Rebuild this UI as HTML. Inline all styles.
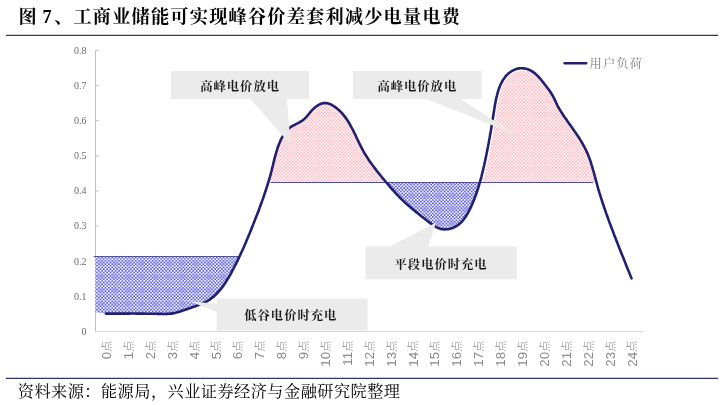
<!DOCTYPE html>
<html lang="zh-CN"><head><meta charset="utf-8"><title>图 7</title>
<style>
html,body{margin:0;padding:0;background:#fff;}
body{width:728px;height:405px;position:relative;overflow:hidden;font-family:"Liberation Serif","Noto Serif CJK SC",serif;}
.title{position:absolute;left:18.6px;top:3.2px;font-size:18.2px;line-height:28px;font-weight:700;color:#000;white-space:nowrap;letter-spacing:1.2px;}
.src{position:absolute;left:17.8px;top:378.7px;letter-spacing:0.45px;font-size:16.2px;line-height:26px;color:#000;white-space:nowrap;font-weight:400;}
svg text{font-family:"Liberation Serif","Noto Serif CJK SC",serif;}
.yl{font-size:10px;fill:#6a6a6a;}
.xl{font-family:"Liberation Sans","Noto Sans CJK SC",sans-serif;font-size:13.3px;fill:#8a8a8a;font-weight:300;}
.xc{font-size:11.5px;font-weight:300;}
.ct{font-size:12.3px;letter-spacing:1px;font-weight:700;fill:#1a1a1a;}
.lg{font-size:12.3px;letter-spacing:1px;fill:#7a7a7a;}
</style></head><body>
<svg width="728" height="405" viewBox="0 0 728 405" style="position:absolute;left:0;top:0">
<defs><radialGradient id="pbg"><stop offset="0" stop-color="#9a9aea" stop-opacity="0.8"/><stop offset="0.55" stop-color="#9a9aea" stop-opacity="0.55"/><stop offset="1" stop-color="#9a9aea" stop-opacity="0"/></radialGradient><pattern id="pb" patternUnits="userSpaceOnUse" width="27" height="27"><rect width="27" height="27" fill="#f6f6fe"/><path d="M0,0.8438H28.6875M-1.6875,2.5312H28.6875M0,4.2188H28.6875M-1.6875,5.9062H28.6875M0,7.5938H28.6875M-1.6875,9.2812H28.6875M0,10.9688H28.6875M-1.6875,12.6562H28.6875M0,14.3438H28.6875M-1.6875,16.0312H28.6875M0,17.7188H28.6875M-1.6875,19.4062H28.6875M0,21.0938H28.6875M-1.6875,22.7812H28.6875M0,24.4688H28.6875M-1.6875,26.1562H28.6875" fill="none" stroke="#6060e0" stroke-width="1.6875" stroke-dasharray="1.6875 1.6875"/><circle cx="6.75" cy="6.75" r="4.2" fill="url(#pbg)"/><circle cx="6.75" cy="20.25" r="4.2" fill="url(#pbg)"/><circle cx="20.25" cy="6.75" r="4.2" fill="url(#pbg)"/><circle cx="20.25" cy="20.25" r="4.2" fill="url(#pbg)"/></pattern><radialGradient id="ppg"><stop offset="0" stop-color="#ffd3d8" stop-opacity="0.8"/><stop offset="0.55" stop-color="#ffd3d8" stop-opacity="0.55"/><stop offset="1" stop-color="#ffd3d8" stop-opacity="0"/></radialGradient><pattern id="pp" patternUnits="userSpaceOnUse" width="27" height="27"><rect width="27" height="27" fill="#fff8f9"/><path d="M0,0.8438H28.6875M-1.6875,2.5312H28.6875M0,4.2188H28.6875M-1.6875,5.9062H28.6875M0,7.5938H28.6875M-1.6875,9.2812H28.6875M0,10.9688H28.6875M-1.6875,12.6562H28.6875M0,14.3438H28.6875M-1.6875,16.0312H28.6875M0,17.7188H28.6875M-1.6875,19.4062H28.6875M0,21.0938H28.6875M-1.6875,22.7812H28.6875M0,24.4688H28.6875M-1.6875,26.1562H28.6875" fill="none" stroke="#ffbcc4" stroke-width="1.6875" stroke-dasharray="1.6875 1.6875"/><circle cx="6.75" cy="6.75" r="4.2" fill="url(#ppg)"/><circle cx="6.75" cy="20.25" r="4.2" fill="url(#ppg)"/><circle cx="20.25" cy="6.75" r="4.2" fill="url(#ppg)"/><circle cx="20.25" cy="20.25" r="4.2" fill="url(#ppg)"/></pattern></defs>
<line x1="5.9" y1="35.4" x2="718.1" y2="35.4" stroke="#2f346e" stroke-width="1.2"/>
<line x1="5.9" y1="378.4" x2="718.1" y2="378.4" stroke="#2f346e" stroke-width="1.2"/>
<line x1="95.5" y1="50.4" x2="95.5" y2="331.5" stroke="#bfbfbf" stroke-width="1"/>
<line x1="95.0" y1="331.5" x2="642.9" y2="331.5" stroke="#d9d9d9" stroke-width="1"/>
<text x="86.6" y="334.90" text-anchor="end" class="yl">0</text>
<line x1="95.5" y1="296.36" x2="98.7" y2="296.36" stroke="#bfbfbf" stroke-width="1"/>
<text x="86.6" y="299.76" text-anchor="end" class="yl">0.1</text>
<line x1="95.5" y1="261.23" x2="98.7" y2="261.23" stroke="#bfbfbf" stroke-width="1"/>
<text x="86.6" y="264.62" text-anchor="end" class="yl">0.2</text>
<line x1="95.5" y1="226.09" x2="98.7" y2="226.09" stroke="#bfbfbf" stroke-width="1"/>
<text x="86.6" y="229.49" text-anchor="end" class="yl">0.3</text>
<line x1="95.5" y1="190.95" x2="98.7" y2="190.95" stroke="#bfbfbf" stroke-width="1"/>
<text x="86.6" y="194.35" text-anchor="end" class="yl">0.4</text>
<line x1="95.5" y1="155.81" x2="98.7" y2="155.81" stroke="#bfbfbf" stroke-width="1"/>
<text x="86.6" y="159.21" text-anchor="end" class="yl">0.5</text>
<line x1="95.5" y1="120.68" x2="98.7" y2="120.68" stroke="#bfbfbf" stroke-width="1"/>
<text x="86.6" y="124.08" text-anchor="end" class="yl">0.6</text>
<line x1="95.5" y1="85.54" x2="98.7" y2="85.54" stroke="#bfbfbf" stroke-width="1"/>
<text x="86.6" y="88.94" text-anchor="end" class="yl">0.7</text>
<line x1="95.5" y1="50.40" x2="98.7" y2="50.40" stroke="#bfbfbf" stroke-width="1"/>
<text x="86.6" y="53.80" text-anchor="end" class="yl">0.8</text>
<text transform="translate(111.05,340.4) rotate(-90)" text-anchor="end" class="xl">0<tspan class="xc" dy="-0.1">点</tspan></text>
<text transform="translate(132.94,340.4) rotate(-90)" text-anchor="end" class="xl">1<tspan class="xc" dy="-0.1">点</tspan></text>
<text transform="translate(154.84,340.4) rotate(-90)" text-anchor="end" class="xl">2<tspan class="xc" dy="-0.1">点</tspan></text>
<text transform="translate(176.74,340.4) rotate(-90)" text-anchor="end" class="xl">3<tspan class="xc" dy="-0.1">点</tspan></text>
<text transform="translate(198.63,340.4) rotate(-90)" text-anchor="end" class="xl">4<tspan class="xc" dy="-0.1">点</tspan></text>
<text transform="translate(220.53,340.4) rotate(-90)" text-anchor="end" class="xl">5<tspan class="xc" dy="-0.1">点</tspan></text>
<text transform="translate(242.42,340.4) rotate(-90)" text-anchor="end" class="xl">6<tspan class="xc" dy="-0.1">点</tspan></text>
<text transform="translate(264.32,340.4) rotate(-90)" text-anchor="end" class="xl">7<tspan class="xc" dy="-0.1">点</tspan></text>
<text transform="translate(286.22,340.4) rotate(-90)" text-anchor="end" class="xl">8<tspan class="xc" dy="-0.1">点</tspan></text>
<text transform="translate(308.11,340.4) rotate(-90)" text-anchor="end" class="xl">9<tspan class="xc" dy="-0.1">点</tspan></text>
<text transform="translate(330.01,340.4) rotate(-90)" text-anchor="end" class="xl">10<tspan class="xc" dy="-0.1">点</tspan></text>
<text transform="translate(351.90,340.4) rotate(-90)" text-anchor="end" class="xl">11<tspan class="xc" dy="-0.1">点</tspan></text>
<text transform="translate(373.80,340.4) rotate(-90)" text-anchor="end" class="xl">12<tspan class="xc" dy="-0.1">点</tspan></text>
<text transform="translate(395.70,340.4) rotate(-90)" text-anchor="end" class="xl">13<tspan class="xc" dy="-0.1">点</tspan></text>
<text transform="translate(417.59,340.4) rotate(-90)" text-anchor="end" class="xl">14<tspan class="xc" dy="-0.1">点</tspan></text>
<text transform="translate(439.49,340.4) rotate(-90)" text-anchor="end" class="xl">15<tspan class="xc" dy="-0.1">点</tspan></text>
<text transform="translate(461.38,340.4) rotate(-90)" text-anchor="end" class="xl">16<tspan class="xc" dy="-0.1">点</tspan></text>
<text transform="translate(483.28,340.4) rotate(-90)" text-anchor="end" class="xl">17<tspan class="xc" dy="-0.1">点</tspan></text>
<text transform="translate(505.18,340.4) rotate(-90)" text-anchor="end" class="xl">18<tspan class="xc" dy="-0.1">点</tspan></text>
<text transform="translate(527.07,340.4) rotate(-90)" text-anchor="end" class="xl">19<tspan class="xc" dy="-0.1">点</tspan></text>
<text transform="translate(548.97,340.4) rotate(-90)" text-anchor="end" class="xl">20<tspan class="xc" dy="-0.1">点</tspan></text>
<text transform="translate(570.86,340.4) rotate(-90)" text-anchor="end" class="xl">21<tspan class="xc" dy="-0.1">点</tspan></text>
<text transform="translate(592.76,340.4) rotate(-90)" text-anchor="end" class="xl">22<tspan class="xc" dy="-0.1">点</tspan></text>
<text transform="translate(614.66,340.4) rotate(-90)" text-anchor="end" class="xl">23<tspan class="xc" dy="-0.1">点</tspan></text>
<text transform="translate(636.55,340.4) rotate(-90)" text-anchor="end" class="xl">24<tspan class="xc" dy="-0.1">点</tspan></text>
<path d="M268.3,182.4 L268.3,182.1 L268.9,180.3 L269.4,178.5 L270.0,176.6 L270.5,174.8 L271.0,172.9 L271.5,171.1 L271.9,169.2 L272.4,167.3 L272.9,165.5 L273.3,163.6 L273.8,161.7 L274.2,159.9 L274.7,158.0 L275.2,156.2 L275.7,154.3 L276.2,152.5 L276.8,150.7 L277.3,148.8 L277.9,147.0 L278.6,145.2 L279.3,143.5 L280.0,141.7 L280.8,139.9 L281.7,138.2 L282.6,136.5 L283.5,134.8 L284.6,133.2 L285.7,131.7 L287.0,130.2 L288.3,128.9 L289.7,127.7 L291.3,126.6 L293.0,125.7 L294.7,124.8 L296.4,123.9 L298.1,123.1 L299.8,122.2 L301.4,121.2 L303.0,120.1 L304.4,118.9 L305.7,117.6 L307.0,116.2 L308.3,114.7 L309.5,113.2 L310.8,111.7 L312.1,110.2 L313.5,108.8 L315.0,107.4 L316.6,106.2 L318.2,105.1 L320.0,104.2 L321.7,103.5 L323.5,103.1 L325.4,103.0 L327.2,103.2 L329.0,103.7 L330.8,104.4 L332.5,105.4 L334.2,106.4 L335.8,107.6 L337.3,108.8 L338.8,110.0 L340.2,111.4 L341.5,112.7 L342.8,114.2 L344.0,115.6 L345.2,117.1 L346.3,118.7 L347.3,120.2 L348.4,121.8 L349.4,123.5 L350.3,125.1 L351.2,126.8 L352.1,128.5 L353.0,130.2 L353.9,132.0 L354.7,133.7 L355.6,135.4 L356.4,137.2 L357.2,139.0 L358.1,140.7 L358.9,142.5 L359.7,144.2 L360.6,145.9 L361.5,147.6 L362.4,149.3 L363.3,151.0 L364.2,152.7 L365.2,154.3 L366.2,155.9 L367.2,157.5 L368.3,159.1 L369.3,160.7 L370.4,162.2 L371.5,163.8 L372.6,165.3 L373.8,166.8 L374.9,168.4 L376.1,169.9 L377.2,171.4 L378.4,172.9 L379.6,174.3 L380.8,175.8 L382.0,177.3 L383.3,178.8 L384.5,180.3 L385.7,181.8 L385.7,182.4 Z" fill="url(#pp)"/>
<path d="M479.9,182.4 L479.9,182.3 L480.4,180.5 L480.9,178.6 L481.4,176.8 L481.8,174.9 L482.3,173.1 L482.8,171.2 L483.2,169.3 L483.6,167.4 L484.1,165.6 L484.5,163.7 L484.9,161.8 L485.3,159.9 L485.7,158.0 L486.1,156.1 L486.5,154.3 L486.8,152.4 L487.2,150.5 L487.6,148.6 L488.0,146.8 L488.3,144.9 L488.7,143.0 L489.0,141.1 L489.3,139.3 L489.7,137.4 L490.0,135.5 L490.3,133.6 L490.7,131.8 L491.0,129.9 L491.3,128.0 L491.6,126.1 L491.9,124.2 L492.2,122.3 L492.5,120.4 L492.8,118.6 L493.1,116.7 L493.4,114.8 L493.7,112.9 L494.0,111.0 L494.3,109.1 L494.6,107.1 L494.9,105.2 L495.3,103.4 L495.6,101.5 L496.0,99.6 L496.4,97.7 L496.9,95.8 L497.3,94.0 L497.8,92.2 L498.4,90.3 L499.0,88.5 L499.7,86.8 L500.4,85.0 L501.2,83.3 L502.1,81.6 L503.0,80.0 L504.1,78.4 L505.2,76.9 L506.4,75.4 L507.8,74.1 L509.3,72.8 L510.9,71.7 L512.6,70.7 L514.4,69.8 L516.2,69.1 L518.1,68.6 L520.0,68.3 L521.9,68.3 L523.8,68.4 L525.6,68.7 L527.4,69.1 L529.1,69.8 L530.8,70.6 L532.4,71.5 L533.9,72.6 L535.4,73.8 L536.8,75.1 L538.2,76.5 L539.6,78.0 L540.9,79.5 L542.1,81.0 L543.4,82.6 L544.6,84.2 L545.8,85.7 L546.9,87.2 L548.1,88.8 L549.2,90.3 L550.3,91.8 L551.3,93.4 L552.3,95.0 L553.2,96.6 L554.1,98.3 L554.9,100.1 L555.7,101.8 L556.5,103.6 L557.3,105.3 L558.2,107.0 L559.2,108.7 L560.1,110.3 L561.2,111.9 L562.2,113.5 L563.2,115.1 L564.3,116.7 L565.4,118.2 L566.5,119.8 L567.6,121.4 L568.7,122.9 L569.8,124.5 L570.9,126.1 L572.0,127.6 L573.1,129.2 L574.2,130.8 L575.3,132.3 L576.4,133.9 L577.5,135.5 L578.5,137.1 L579.6,138.7 L580.6,140.4 L581.6,142.0 L582.5,143.6 L583.5,145.3 L584.4,147.0 L585.2,148.7 L586.1,150.4 L586.9,152.1 L587.7,153.8 L588.4,155.6 L589.1,157.4 L589.7,159.2 L590.4,161.0 L591.0,162.8 L591.5,164.6 L592.1,166.4 L592.6,168.3 L593.1,170.1 L593.7,172.0 L594.2,173.9 L594.7,175.7 L595.2,177.6 L595.7,179.4 L596.2,181.3 L596.2,182.4 Z" fill="url(#pp)"/>
<path d="M95.5,256.5 L239.6,256.5 L239.3,256.9 L238.5,258.6 L237.7,260.4 L236.8,262.1 L236.0,263.8 L235.1,265.5 L234.2,267.2 L233.3,269.0 L232.4,270.7 L231.5,272.4 L230.6,274.1 L229.6,275.8 L228.6,277.5 L227.6,279.1 L226.6,280.8 L225.6,282.4 L224.5,284.1 L223.4,285.6 L222.2,287.2 L221.1,288.7 L219.9,290.2 L218.6,291.6 L217.4,293.0 L216.0,294.4 L214.7,295.7 L213.3,296.9 L211.8,298.0 L210.3,299.1 L208.8,300.2 L207.2,301.1 L205.5,302.0 L203.8,302.9 L202.1,303.6 L200.3,304.4 L198.5,305.1 L196.7,305.8 L194.9,306.4 L193.1,307.1 L191.2,307.7 L189.4,308.3 L187.5,308.9 L185.7,309.5 L183.8,310.2 L182.0,310.8 L180.2,311.4 L178.4,312.0 L176.6,312.6 L174.7,313.0 L172.9,313.4 L171.0,313.6 L169.1,313.8 L167.2,313.9 L165.3,314.0 L163.3,314.0 L161.4,313.9 L159.5,313.9 L157.6,313.9 L155.7,313.8 L153.7,313.8 L151.8,313.8 L149.9,313.7 L148.0,313.7 L146.1,313.7 L144.2,313.6 L142.3,313.6 L140.4,313.6 L138.4,313.6 L136.5,313.6 L134.6,313.5 L132.7,313.5 L130.8,313.5 L128.9,313.6 L127.0,313.6 L125.0,313.6 L123.1,313.6 L121.2,313.6 L119.3,313.6 L117.4,313.6 L115.5,313.6 L113.5,313.6 L111.6,313.6 L109.7,313.6 L107.8,313.6 L105.9,313.6 L95.5,312.3 Z" fill="url(#pb)"/>
<path d="M387.0,182.4 L387.0,183.2 L388.2,184.7 L389.5,186.2 L390.7,187.6 L392.0,189.1 L393.3,190.5 L394.6,192.0 L395.9,193.4 L397.2,194.8 L398.5,196.2 L399.8,197.5 L401.2,198.9 L402.6,200.2 L403.9,201.5 L405.3,202.8 L406.7,204.1 L408.1,205.3 L409.6,206.6 L411.0,207.8 L412.4,209.0 L413.9,210.2 L415.4,211.4 L416.8,212.6 L418.3,213.8 L419.8,215.0 L421.3,216.2 L422.9,217.4 L424.4,218.6 L425.9,219.8 L427.5,221.0 L429.0,222.2 L430.6,223.4 L432.2,224.6 L433.8,225.7 L435.5,226.7 L437.1,227.6 L438.9,228.3 L440.7,228.9 L442.6,229.2 L444.4,229.4 L446.3,229.3 L448.2,229.1 L450.1,228.8 L451.9,228.2 L453.7,227.6 L455.4,226.7 L457.0,225.8 L458.5,224.7 L459.9,223.5 L461.3,222.2 L462.6,220.8 L463.8,219.3 L465.0,217.8 L466.1,216.1 L467.1,214.4 L468.1,212.7 L469.0,211.0 L469.9,209.2 L470.8,207.4 L471.6,205.5 L472.4,203.7 L473.1,201.9 L473.9,200.1 L474.6,198.3 L475.2,196.6 L475.9,194.8 L476.5,193.0 L477.1,191.3 L477.7,189.5 L478.3,187.7 L478.8,185.9 L479.3,184.1 L479.3,182.4 Z" fill="url(#pb)"/>
<path d="M479.9,182.3 L480.4,180.5 L480.9,178.6 L481.4,176.8 L481.8,174.9 L482.3,173.1 L482.8,171.2 L483.2,169.3 L483.6,167.4 L484.1,165.6 L484.5,163.7 L484.9,161.8 L485.3,159.9 L485.7,158.0 L486.1,156.1 L486.5,154.3 L486.8,152.4 L487.2,150.5 L487.6,148.6 L488.0,146.8 L488.3,144.9 L488.7,143.0 L489.0,141.1 L489.3,139.3 L489.7,137.4 L490.0,135.5 L490.3,133.6 L490.7,131.8 L491.0,129.9 L491.3,128.0 L491.6,126.1 L491.9,124.2 L492.2,122.3 L492.5,120.4 L492.8,118.6 L493.1,116.7 L493.4,114.8 L493.7,112.9 L494.0,111.0 L494.3,109.1 L494.6,107.1 L494.9,105.2 L495.3,103.4 L495.6,101.5 L496.0,99.6 L496.4,97.7 L496.9,95.8 L497.3,94.0 L497.8,92.2 L498.4,90.3 L499.0,88.5 L499.7,86.8 L500.4,85.0 L501.2,83.3 L502.1,81.6 L503.0,80.0 L504.1,78.4 L505.2,76.9 L506.4,75.4 L507.8,74.1 L509.3,72.8 L510.9,71.7 L512.6,70.7 L514.4,69.8 L516.2,69.1 L518.1,68.6 L520.0,68.3 L521.9,68.3 L523.8,68.4 L525.6,68.7 L527.4,69.1" fill="none" stroke="#fff" stroke-width="5" stroke-linecap="butt"/>
<line x1="270.5" y1="182.5" x2="593" y2="182.5" stroke="#5050a2" stroke-width="1"/>
<line x1="93.7" y1="256.5" x2="239.3" y2="256.5" stroke="#5050a2" stroke-width="1"/>
<path d="M105.9,313.6 L107.8,313.6 L109.7,313.6 L111.6,313.6 L113.5,313.6 L115.5,313.6 L117.4,313.6 L119.3,313.6 L121.2,313.6 L123.1,313.6 L125.0,313.6 L127.0,313.6 L128.9,313.6 L130.8,313.5 L132.7,313.5 L134.6,313.5 L136.5,313.6 L138.4,313.6 L140.4,313.6 L142.3,313.6 L144.2,313.6 L146.1,313.7 L148.0,313.7 L149.9,313.7 L151.8,313.8 L153.7,313.8 L155.7,313.8 L157.6,313.9 L159.5,313.9 L161.4,313.9 L163.3,314.0 L165.3,314.0 L167.2,313.9 L169.1,313.8 L171.0,313.6 L172.9,313.4 L174.7,313.0 L176.6,312.6 L178.4,312.0 L180.2,311.4 L182.0,310.8 L183.8,310.2 L185.7,309.5 L187.5,308.9 L189.4,308.3 L191.2,307.7 L193.1,307.1 L194.9,306.4 L196.7,305.8 L198.5,305.1 L200.3,304.4 L202.1,303.6 L203.8,302.9 L205.5,302.0 L207.2,301.1 L208.8,300.2 L210.3,299.1 L211.8,298.0 L213.3,296.9 L214.7,295.7 L216.0,294.4 L217.4,293.0 L218.6,291.6 L219.9,290.2 L221.1,288.7 L222.2,287.2 L223.4,285.6 L224.5,284.1 L225.6,282.4 L226.6,280.8 L227.6,279.1 L228.6,277.5 L229.6,275.8 L230.6,274.1 L231.5,272.4 L232.4,270.7 L233.3,269.0 L234.2,267.2 L235.1,265.5 L236.0,263.8 L236.8,262.1 L237.7,260.4 L238.5,258.6 L239.3,256.9 L240.1,255.2 L240.9,253.5 L241.7,251.7 L242.5,250.0 L243.3,248.2 L244.1,246.5 L244.8,244.8 L245.6,243.0 L246.3,241.3 L247.0,239.5 L247.8,237.8 L248.5,236.0 L249.2,234.2 L250.0,232.5 L250.7,230.7 L251.4,229.0 L252.1,227.2 L252.8,225.4 L253.5,223.6 L254.2,221.9 L254.9,220.1 L255.6,218.3 L256.3,216.5 L257.0,214.7 L257.7,213.0 L258.4,211.2 L259.1,209.4 L259.7,207.6 L260.4,205.8 L261.0,204.0 L261.7,202.2 L262.3,200.4 L263.0,198.6 L263.6,196.8 L264.2,194.9 L264.8,193.1 L265.5,191.3 L266.0,189.5 L266.6,187.6 L267.2,185.8 L267.8,184.0 L268.3,182.1 L268.9,180.3 L269.4,178.5 L270.0,176.6 L270.5,174.8 L271.0,172.9 L271.5,171.1 L271.9,169.2 L272.4,167.3 L272.9,165.5 L273.3,163.6 L273.8,161.7 L274.2,159.9 L274.7,158.0 L275.2,156.2 L275.7,154.3 L276.2,152.5 L276.8,150.7 L277.3,148.8 L277.9,147.0 L278.6,145.2 L279.3,143.5 L280.0,141.7 L280.8,139.9 L281.7,138.2 L282.6,136.5 L283.5,134.8 L284.6,133.2 L285.7,131.7 L287.0,130.2 L288.3,128.9 L289.7,127.7 L291.3,126.6 L293.0,125.7 L294.7,124.8 L296.4,123.9 L298.1,123.1 L299.8,122.2 L301.4,121.2 L303.0,120.1 L304.4,118.9 L305.7,117.6 L307.0,116.2 L308.3,114.7 L309.5,113.2 L310.8,111.7 L312.1,110.2 L313.5,108.8 L315.0,107.4 L316.6,106.2 L318.2,105.1 L320.0,104.2 L321.7,103.5 L323.5,103.1 L325.4,103.0 L327.2,103.2 L329.0,103.7 L330.8,104.4 L332.5,105.4 L334.2,106.4 L335.8,107.6 L337.3,108.8 L338.8,110.0 L340.2,111.4 L341.5,112.7 L342.8,114.2 L344.0,115.6 L345.2,117.1 L346.3,118.7 L347.3,120.2 L348.4,121.8 L349.4,123.5 L350.3,125.1 L351.2,126.8 L352.1,128.5 L353.0,130.2 L353.9,132.0 L354.7,133.7 L355.6,135.4 L356.4,137.2 L357.2,139.0 L358.1,140.7 L358.9,142.5 L359.7,144.2 L360.6,145.9 L361.5,147.6 L362.4,149.3 L363.3,151.0 L364.2,152.7 L365.2,154.3 L366.2,155.9 L367.2,157.5 L368.3,159.1 L369.3,160.7 L370.4,162.2 L371.5,163.8 L372.6,165.3 L373.8,166.8 L374.9,168.4 L376.1,169.9 L377.2,171.4 L378.4,172.9 L379.6,174.3 L380.8,175.8 L382.0,177.3 L383.3,178.8 L384.5,180.3 L385.7,181.8 L387.0,183.2 L388.2,184.7 L389.5,186.2 L390.7,187.6 L392.0,189.1 L393.3,190.5 L394.6,192.0 L395.9,193.4 L397.2,194.8 L398.5,196.2 L399.8,197.5 L401.2,198.9 L402.6,200.2 L403.9,201.5 L405.3,202.8 L406.7,204.1 L408.1,205.3 L409.6,206.6 L411.0,207.8 L412.4,209.0 L413.9,210.2 L415.4,211.4 L416.8,212.6 L418.3,213.8 L419.8,215.0 L421.3,216.2 L422.9,217.4 L424.4,218.6 L425.9,219.8 L427.5,221.0 L429.0,222.2 L430.6,223.4 L432.2,224.6 L433.8,225.7 L435.5,226.7 L437.1,227.6 L438.9,228.3 L440.7,228.9 L442.6,229.2 L444.4,229.4 L446.3,229.3 L448.2,229.1 L450.1,228.8 L451.9,228.2 L453.7,227.6 L455.4,226.7 L457.0,225.8 L458.5,224.7 L459.9,223.5 L461.3,222.2 L462.6,220.8 L463.8,219.3 L465.0,217.8 L466.1,216.1 L467.1,214.4 L468.1,212.7 L469.0,211.0 L469.9,209.2 L470.8,207.4 L471.6,205.5 L472.4,203.7 L473.1,201.9 L473.9,200.1 L474.6,198.3 L475.2,196.6 L475.9,194.8 L476.5,193.0 L477.1,191.3 L477.7,189.5 L478.3,187.7 L478.8,185.9 L479.3,184.1 L479.9,182.3 L480.4,180.5 L480.9,178.6 L481.4,176.8 L481.8,174.9 L482.3,173.1 L482.8,171.2 L483.2,169.3 L483.6,167.4 L484.1,165.6 L484.5,163.7 L484.9,161.8 L485.3,159.9 L485.7,158.0 L486.1,156.1 L486.5,154.3 L486.8,152.4 L487.2,150.5 L487.6,148.6 L488.0,146.8 L488.3,144.9 L488.7,143.0 L489.0,141.1 L489.3,139.3 L489.7,137.4 L490.0,135.5 L490.3,133.6 L490.7,131.8 L491.0,129.9 L491.3,128.0 L491.6,126.1 L491.9,124.2 L492.2,122.3 L492.5,120.4 L492.8,118.6 L493.1,116.7 L493.4,114.8 L493.7,112.9 L494.0,111.0 L494.3,109.1 L494.6,107.1 L494.9,105.2 L495.3,103.4 L495.6,101.5 L496.0,99.6 L496.4,97.7 L496.9,95.8 L497.3,94.0 L497.8,92.2 L498.4,90.3 L499.0,88.5 L499.7,86.8 L500.4,85.0 L501.2,83.3 L502.1,81.6 L503.0,80.0 L504.1,78.4 L505.2,76.9 L506.4,75.4 L507.8,74.1 L509.3,72.8 L510.9,71.7 L512.6,70.7 L514.4,69.8 L516.2,69.1 L518.1,68.6 L520.0,68.3 L521.9,68.3 L523.8,68.4 L525.6,68.7 L527.4,69.1 L529.1,69.8 L530.8,70.6 L532.4,71.5 L533.9,72.6 L535.4,73.8 L536.8,75.1 L538.2,76.5 L539.6,78.0 L540.9,79.5 L542.1,81.0 L543.4,82.6 L544.6,84.2 L545.8,85.7 L546.9,87.2 L548.1,88.8 L549.2,90.3 L550.3,91.8 L551.3,93.4 L552.3,95.0 L553.2,96.6 L554.1,98.3 L554.9,100.1 L555.7,101.8 L556.5,103.6 L557.3,105.3 L558.2,107.0 L559.2,108.7 L560.1,110.3 L561.2,111.9 L562.2,113.5 L563.2,115.1 L564.3,116.7 L565.4,118.2 L566.5,119.8 L567.6,121.4 L568.7,122.9 L569.8,124.5 L570.9,126.1 L572.0,127.6 L573.1,129.2 L574.2,130.8 L575.3,132.3 L576.4,133.9 L577.5,135.5 L578.5,137.1 L579.6,138.7 L580.6,140.4 L581.6,142.0 L582.5,143.6 L583.5,145.3 L584.4,147.0 L585.2,148.7 L586.1,150.4 L586.9,152.1 L587.7,153.8 L588.4,155.6 L589.1,157.4 L589.7,159.2 L590.4,161.0 L591.0,162.8 L591.5,164.6 L592.1,166.4 L592.6,168.3 L593.1,170.1 L593.7,172.0 L594.2,173.9 L594.7,175.7 L595.2,177.6 L595.7,179.4 L596.2,181.3 L596.7,183.2 L597.2,185.0 L597.7,186.9 L598.2,188.7 L598.8,190.6 L599.3,192.4 L599.9,194.2 L600.5,196.1 L601.0,197.9 L601.6,199.7 L602.2,201.5 L602.8,203.4 L603.4,205.2 L604.0,207.0 L604.6,208.8 L605.3,210.6 L605.9,212.4 L606.5,214.2 L607.2,216.0 L607.8,217.8 L608.5,219.6 L609.1,221.4 L609.8,223.2 L610.5,225.0 L611.1,226.8 L611.8,228.6 L612.5,230.3 L613.2,232.1 L613.8,233.9 L614.5,235.7 L615.2,237.5 L615.9,239.3 L616.6,241.0 L617.3,242.8 L618.0,244.6 L618.7,246.4 L619.4,248.2 L620.1,249.9 L620.8,251.7 L621.5,253.5 L622.2,255.3 L623.0,257.0 L623.7,258.8 L624.4,260.6 L625.1,262.4 L625.8,264.2 L626.5,265.9 L627.2,267.7 L627.9,269.5 L628.7,271.3 L629.4,273.1 L630.1,274.8 L630.8,276.6 L631.5,278.4" fill="none" stroke="#20206f" stroke-width="2.6" stroke-linecap="round" stroke-linejoin="round"/>
<path d="M171.1,70.9 H309.1 V98.9 H286.9 L290.6,144.7 L250.3,98.9 H171.1 Z" fill="#ebebeb"/>
<path d="M352.9,70.9 H481.7 V98.9 H460.4 L514.5,134 L426.5,98.9 H352.9 Z" fill="#ebebeb"/>
<path d="M365.4,246.6 H390 L436,222.5 L428.6,246.6 H516.8 V279.3 H365.4 Z" fill="#ebebeb"/>
<path d="M216.6,298.6 H367.6 V330.4 H216.6 V312.1 L188.9,301.1 L216.6,303.9 Z" fill="#ebebeb"/>
<line x1="564.7" y1="63.25" x2="586.1" y2="63.25" stroke="#20206f" stroke-width="2.6" stroke-linecap="round"/>
<text x="589.6" y="68" class="lg">用户负荷</text>
<text x="240.1" y="90.8" text-anchor="middle" class="ct">高峰电价放电</text>
<text x="417.3" y="90.8" text-anchor="middle" class="ct">高峰电价放电</text>
<text x="441.1" y="269" text-anchor="middle" class="ct">平段电价时充电</text>
<text x="290.8" y="320.2" text-anchor="middle" class="ct">低谷电价时充电</text>
</svg>
<div class="title">图<span style="letter-spacing:0"> </span><span style="letter-spacing:2.7px">7</span><span style="letter-spacing:0.9px">、</span>工商业储能可实现峰谷价差套利减少电量电费</div>
<div class="src">资料来源：能源局，兴业证券经济与金融研究院整理</div>
</body></html>
